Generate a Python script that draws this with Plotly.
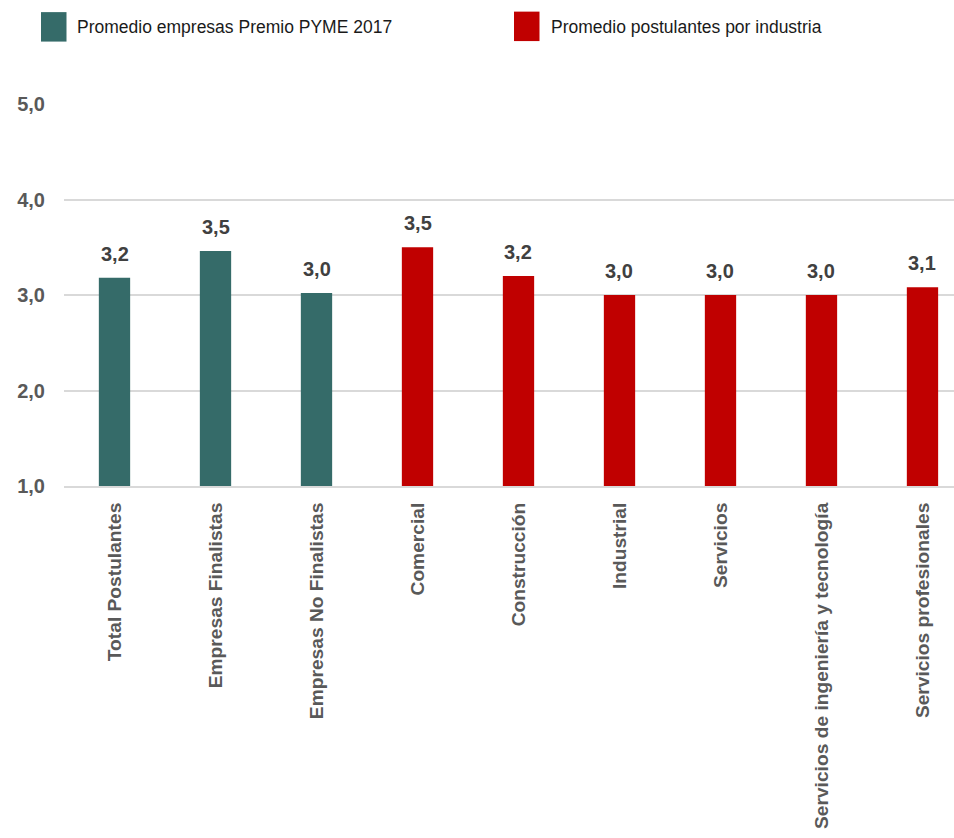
import plotly.graph_objects as go

# Categories and averages
empresas_cats = ["Total Postulantes", "Empresas Finalistas", "Empresas No Finalistas"]
empresas_vals = [3.18, 3.46, 3.02]

industria_cats = ["Comercial", "Construcción", "Industrial", "Servicios",
                  "Servicios de ingeniería y tecnología", "Servicios profesionales"]
industria_vals = [3.50, 3.20, 3.00, 3.00, 3.00, 3.08]

legend_labels = ["Promedio empresas Premio PYME 2017", "Promedio postulantes por industria"]
y_ticks = [1, 2, 3, 4, 5]

TEAL = "#356B69"
RED = "#C00000"
SANS = "Liberation Sans, Arial, sans-serif"

W, H = 954, 838
L, R, T, B = 64, 0, 104, 351.5
PW, PH = W - L - R, H - T - B


def px_x(px):
    return (px - L) / PW


def px_y(py):
    return (H - B - py) / PH


fig = go.Figure()
fig.add_trace(go.Bar(x=empresas_cats, y=empresas_vals, marker_color=TEAL,
                     marker_line_width=0, showlegend=False))
fig.add_trace(go.Bar(x=industria_cats, y=industria_vals, marker_color=RED,
                     marker_line_width=0, showlegend=False))

annotations = []
for cats, vals in ((empresas_cats, empresas_vals), (industria_cats, industria_vals)):
    for c, v in zip(cats, vals):
        annotations.append(dict(
            x=c, y=v, xref="x", yref="y", text=f"{v:.1f}".replace(".", ","),
            showarrow=False, yanchor="bottom", yshift=11,
            font=dict(family=SANS, size=20, color="#404040", weight="bold")))

# Legend: coloured squares with captions
shapes = []
for (x0, x1, y0, y1), color, label, tx in (
        ((41, 66.5, 12, 41.5), TEAL, legend_labels[0], 75),
        ((514, 539.5, 11.5, 41), RED, legend_labels[1], 549)):
    shapes.append(dict(type="rect", xref="paper", yref="paper",
                       x0=px_x(x0), x1=px_x(x1), y0=px_y(y1), y1=px_y(y0),
                       fillcolor=color, line_width=0, layer="above"))
    annotations.append(dict(x=px_x(tx), y=px_y(27), xref="paper", yref="paper",
                            text=label, showarrow=False, xanchor="left",
                            yanchor="middle",
                            font=dict(family=SANS, size=17.5, color="#1a1a1a")))

all_cats = empresas_cats + industria_cats

fig.update_layout(
    width=W, height=H,
    margin=dict(l=L, r=R, t=T, b=B, autoexpand=False),
    paper_bgcolor="white", plot_bgcolor="white",
    barmode="overlay", bargap=0.69,
    separators=",.",
    showlegend=False,
    annotations=annotations,
    shapes=shapes,
    xaxis=dict(type="category", categoryorder="array", categoryarray=all_cats,
               range=[-0.5, 8.312], tickangle=-90, ticklabelstandoff=7,
               showgrid=False, showline=True, linecolor="#d9d9d9", linewidth=2,
               ticks="",
               tickfont=dict(family=SANS, size=19.2, color="#595959", weight="bold")),
    yaxis=dict(range=[1, 5], tickvals=y_ticks, tickformat=".1f",
               showgrid=True, gridcolor="#d9d9d9", gridwidth=1.5,
               zeroline=False, showline=False, ticks="", ticklabelstandoff=18,
               tickfont=dict(family=SANS, size=20, color="#595959", weight="bold")),
)

fig.write_html("out.html")
